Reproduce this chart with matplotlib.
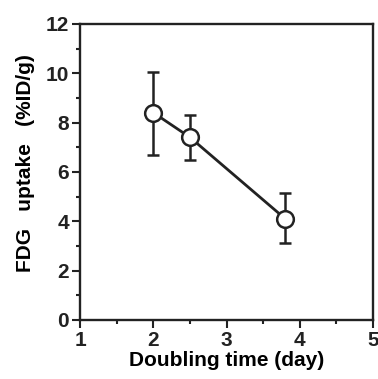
import matplotlib.pyplot as plt
from matplotlib.ticker import MultipleLocator

# doubling time (day) vs FDG uptake (%ID/g)
doubling = [2.0, 2.5, 3.8]
uptake = [8.4, 7.4, 4.1]
err_upper = [1.65, 0.9, 1.05]
err_lower = [1.7, 0.9, 1.0]

plt.rcParams["font.family"] = ["Liberation Sans", "DejaVu Sans"]
plt.rcParams["font.weight"] = "bold"

fig = plt.figure(figsize=(3.78, 3.79), dpi=100)
ax = fig.add_axes([0.212, 0.156, 0.775, 0.781])

ax.errorbar(doubling, uptake, yerr=[err_lower, err_upper], fmt="-o",
            color="#222222", lw=2, elinewidth=1.8, capsize=4.5, capthick=1.8,
            markersize=12, markerfacecolor="white", markeredgewidth=1.8,
            zorder=3)

ax.set_xlim(1, 5)
ax.set_ylim(0, 12)
ax.xaxis.set_major_locator(MultipleLocator(1))
ax.xaxis.set_minor_locator(MultipleLocator(0.5))
ax.yaxis.set_major_locator(MultipleLocator(2))
ax.yaxis.set_minor_locator(MultipleLocator(1))
ax.tick_params(which="both", direction="out", width=1.5, labelsize=15, colors="#222222")
ax.tick_params(which="major", length=6, pad=2)
ax.tick_params(which="minor", length=3)
for s in ax.spines.values():
    s.set_linewidth(1.7)
    s.set_color("#222222")

ax.set_xlabel("Doubling time (day)", fontsize=15, fontweight="bold", labelpad=1)
ax.set_ylabel("FDG   uptake   (%ID/g)", fontsize=15, fontweight="bold")
ax.yaxis.set_label_coords(-0.155, 0.53)

fig.savefig("out.png", dpi=100)
